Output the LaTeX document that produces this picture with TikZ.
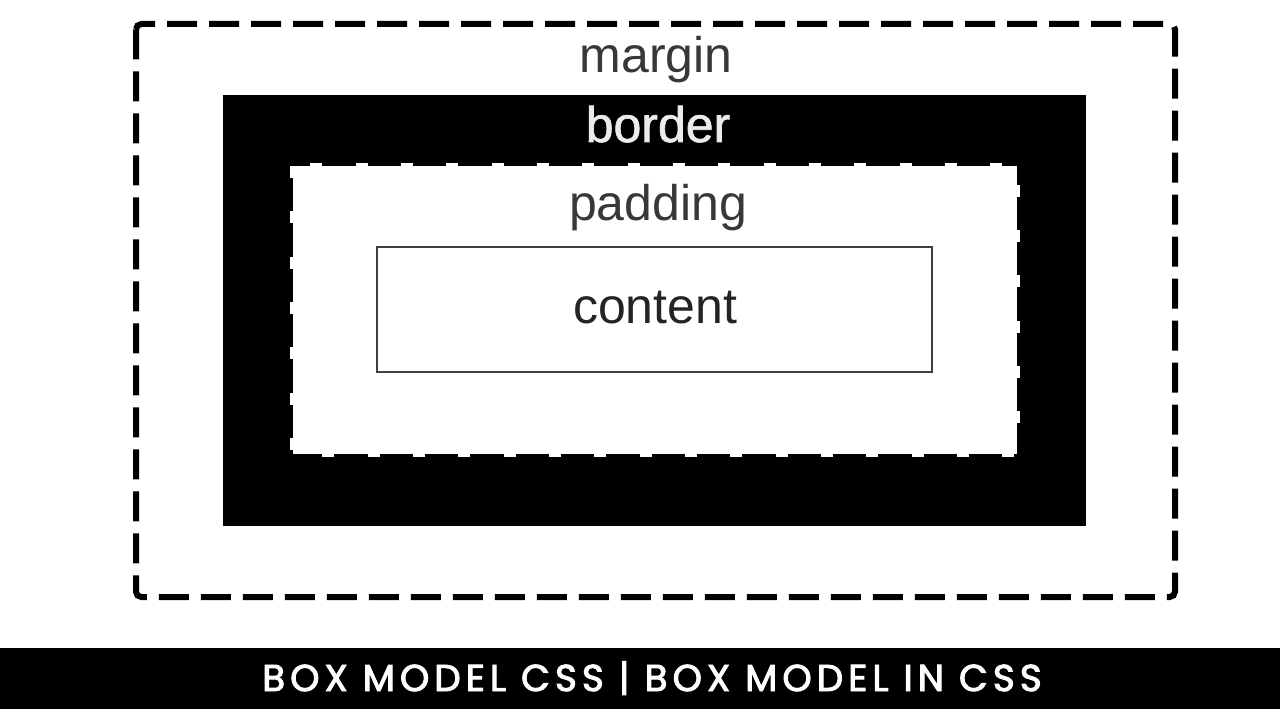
\documentclass[tikz,border=0pt]{standalone}
\usepackage{fontspec}
\setmainfont{Liberation Sans}
\newfontfamily\popp[LetterSpace=13.5,FakeBold=2.6]{Poppins}
\newfontfamily\fbsans[FakeBold=1.3]{Liberation Sans}
\begin{document}
\begin{tikzpicture}[x=0.75pt,y=-0.75pt,
  lbl/.style={anchor=base,inner sep=0pt,font=\fontsize{37.5}{45}\selectfont},
  marginline/.style={draw=black,line width=4.5pt,dash pattern=on 22.5pt off 9pt,rounded corners=4pt},
  borderbox/.style={fill=black},
  padbox/.style={fill=white},
  padedge/.style={draw=white,line width=4pt,dash pattern=on 9pt off 25pt},
  contentbox/.style={draw=black!75,line width=1.6pt}]
\fill[white] (0,0) rectangle (1280,720);
\useasboundingbox (0,0) rectangle (1280,720);
\draw[marginline] (136,24) rectangle (1175,597);
\fill[borderbox] (223,95) rectangle (1086,526);
\fill[padbox] (293,166) rectangle (1017,454);
\draw[padedge] (293,166) rectangle (1017,454);
\draw[contentbox] (377,247) rectangle (932,372);
\node[lbl,text=black!78] (margin) at (656,73) {margin};
\node[lbl,text=white!92!black,font=\fbsans\fontsize{37.5}{45}\selectfont] (border) at (658,142) {border};
\node[lbl,text=black!78] (padding) at (658,220) {padding};
\node[lbl,text=black!86] (content) at (655,323) {content};
\fill[black] (0,648) rectangle (1280,709);
\node[anchor=base,inner sep=0pt,text=white,font=\popp\fontsize{28}{33}\selectfont] (title) at (652,691) {BOX MODEL CSS | BOX MODEL IN CSS};
\end{tikzpicture}
\end{document}
